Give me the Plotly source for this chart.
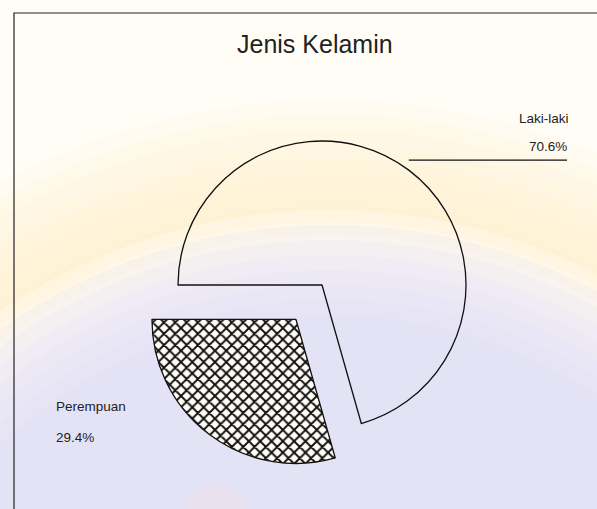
import math
import plotly.graph_objects as go

# Gender breakdown of respondents
categories = ["Laki-laki", "Perempuan"]
percentages = [70.6, 29.4]
chart_title = "Jenis Kelamin"

W, H = 597, 509


def px(x):
    return x / W


def py(y):
    return 1 - y / H


# Pie geometry (pixels): centre and outer radius of the un-pulled slice
cx, cy, r = 322, 285, 144
pull = 0.30
half = r * (1 + pull)

fig = go.Figure(
    go.Pie(
        labels=categories,
        values=percentages,
        sort=False,
        direction="clockwise",
        rotation=-90,
        pull=[0, pull],
        textinfo="none",
        hoverinfo="label+percent",
        showlegend=False,
        domain=dict(
            x=[px(cx - half), px(cx + half)],
            y=[py(cy + half), py(cy - half)],
        ),
        marker=dict(
            colors=["rgba(255,255,255,0)", "rgba(255,255,255,0)"],
            line=dict(color="#111111", width=1.3),
            pattern=dict(
                shape=["", "x"],
                fgcolor="#111111",
                size=8,
                solidity=0.42,
                fillmode="replace",
            ),
        ),
    )
)


def disc(cxp, cyp, rad, color, opacity):
    return dict(type="circle", xref="paper", yref="paper", layer="below",
                x0=px(cxp - rad), x1=px(cxp + rad),
                y0=py(cyp + rad), y1=py(cyp - rad),
                fillcolor=color, line=dict(width=0), opacity=opacity)


# Faded crest behind the chart: soft warm band over a cool globe
gx, gy = 330, 800
shapes = []
for rad in range(700, 590, -15):
    shapes.append(disc(gx, gy, rad, "#fcefc6", 0.12))
for rad in range(590, 520, -12):
    shapes.append(disc(gx, gy, rad, "#fefcf6", 0.35))
for rad in range(575, 470, -15):
    shapes.append(disc(gx, gy, rad, "#dcdcfa", 0.17))
shapes.append(disc(215, 515, 30, "#fbdada", 0.3))

# Leader line from the middle of the first slice's arc to its label
mid = math.radians(-90 + 360 * percentages[0] / sum(percentages) / 2)
lx0 = cx + r * math.sin(mid)
ly0 = cy - r * math.cos(mid) - 10

shapes += [
    # chart-area frame
    dict(type="rect", xref="paper", yref="paper",
         x0=px(14), x1=px(W + 40), y0=py(H + 40), y1=py(13),
         line=dict(color="#222222", width=1.2)),
    # leader line to the first label
    dict(type="line", xref="paper", yref="paper",
         x0=px(lx0), x1=px(567), y0=py(ly0), y1=py(ly0),
         line=dict(color="#111111", width=1.3)),
]

label_font = dict(family="Liberation Sans, Arial, sans-serif", size=13.5, color="#222222")
annotations = [
    dict(text=categories[0], x=px(571), y=py(118), xref="paper", yref="paper",
         xanchor="right", yanchor="middle", showarrow=False, font=label_font),
    dict(text=f"{percentages[0]:.1f}%", x=px(569), y=py(146), xref="paper", yref="paper",
         xanchor="right", yanchor="middle", showarrow=False, font=label_font),
    dict(text=categories[1], x=px(54), y=py(406), xref="paper", yref="paper",
         xanchor="left", yanchor="middle", showarrow=False, font=label_font),
    dict(text=f"{percentages[1]:.1f}%", x=px(54), y=py(437), xref="paper", yref="paper",
         xanchor="left", yanchor="middle", showarrow=False, font=label_font),
    dict(text=chart_title, x=px(315), y=py(44), xref="paper", yref="paper",
         xanchor="center", yanchor="middle", showarrow=False,
         font=dict(family="Liberation Sans, Arial, sans-serif", size=25, color="#222222")),
]

fig.update_layout(
    width=W,
    height=H,
    margin=dict(l=0, r=0, t=0, b=0),
    paper_bgcolor="#fffdf6",
    plot_bgcolor="rgba(0,0,0,0)",
    shapes=shapes,
    annotations=annotations,
)

fig.write_html("out.html")
